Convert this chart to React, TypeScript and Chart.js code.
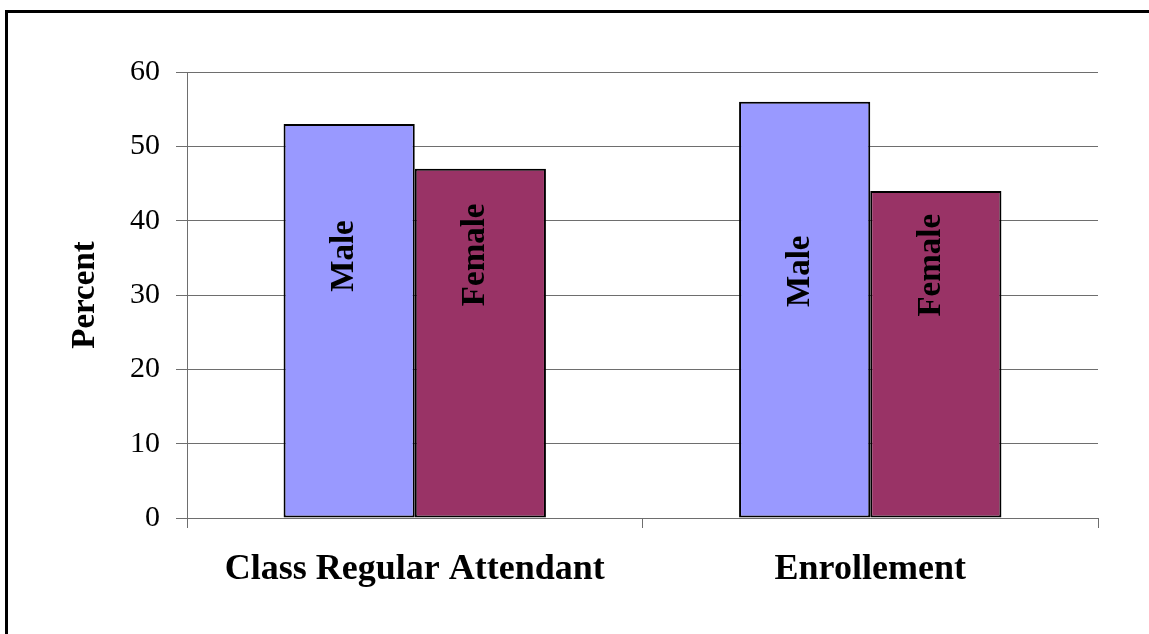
import React, { useEffect, useRef } from "react";
import { Chart, registerables } from "chart.js";

Chart.register(...registerables);

// Chart data
const categories = ["Class Regular Attendant", "Enrollement"];
const maleValues = [53, 56];
const femaleValues = [47, 44];
const yTicks = [0, 10, 20, 30, 40, 50, 60];

// Where each series name sits along the bar (axis units)
const maleNameLevel = [35.25, 33.2];
const femaleNameLevel = [35.4, 34.0];

const GRID = "#6e6e6e";

const seriesNamePlugin = {
  id: "seriesNames",
  afterDatasetsDraw(chart: any) {
    const { ctx } = chart;
    const yScale = chart.scales.y;
    chart.data.datasets.forEach((ds: any, di: number) => {
      const meta = chart.getDatasetMeta(di);
      const levels: number[] = ds.nameLevel;
      meta.data.forEach((bar: any, i: number) => {
        const y = yScale.getPixelForValue(levels[i]);
        ctx.save();
        ctx.translate(bar.x, y);
        ctx.rotate(-Math.PI / 2);
        ctx.font = "bold 33px 'Liberation Serif', 'Times New Roman', serif";
        ctx.fillStyle = "#000";
        ctx.textAlign = "center";
        ctx.textBaseline = "alphabetic";
        ctx.fillText(ds.label, 0, 4);
        ctx.restore();
      });
    });
  },
};

export default function App() {
  const canvasRef = useRef<HTMLCanvasElement | null>(null);

  useEffect(() => {
    const canvas = canvasRef.current;
    if (!canvas) return;
    const chart = new Chart(canvas, {
      type: "bar",
      data: {
        labels: categories,
        datasets: [
          {
            label: "Male",
            data: maleValues,
            backgroundColor: "#9999FF",
            borderColor: "#000000",
            borderWidth: 2,
            borderSkipped: false,
            nameLevel: maleNameLevel,
          } as any,
          {
            label: "Female",
            data: femaleValues,
            backgroundColor: "#993366",
            borderColor: "#000000",
            borderWidth: 2,
            borderSkipped: false,
            nameLevel: femaleNameLevel,
          } as any,
        ],
      },
      options: {
        responsive: false,
        animation: false,
        devicePixelRatio: 1,
        layout: { padding: { left: 0, top: 72, right: 51, bottom: 0 } },
        datasets: {
          bar: { categoryPercentage: 0.576, barPercentage: 1.0 },
        },
        plugins: {
          legend: { display: false },
          tooltip: { enabled: false },
        },
        scales: {
          x: {
            afterFit(scale: any) {
              scale.height = 116;
            },
            grid: {
              display: true,
              offset: true,
              drawOnChartArea: false,
              drawTicks: true,
              tickLength: 10,
              color: GRID,
              lineWidth: 1,
            },
            border: { display: true, color: GRID, width: 1 },
            ticks: {
              color: "#000",
              padding: 20,
              maxRotation: 0,
              autoSkip: false,
              font: {
                family: "'Liberation Serif', 'Times New Roman', serif",
                size: 36,
                weight: "bold",
              },
            },
          },
          y: {
            min: 0,
            max: 60,
            afterFit(scale: any) {
              scale.width = 187;
            },
            afterBuildTicks(scale: any) {
              scale.ticks = yTicks.map((v) => ({ value: v }));
            },
            grid: {
              color: GRID,
              lineWidth: 1,
              drawTicks: true,
              tickLength: 11,
            },
            border: { display: true, color: GRID, width: 1 },
            ticks: {
              color: "#000",
              padding: 16,
              font: {
                family: "'Liberation Serif', 'Times New Roman', serif",
                size: 30,
              },
            },
            title: {
              display: true,
              text: "Percent",
              color: "#000",
              padding: { top: 66, bottom: 0 },
              font: {
                family: "'Liberation Serif', 'Times New Roman', serif",
                size: 33,
                weight: "bold",
              },
            },
          },
        },
      } as any,
      plugins: [seriesNamePlugin],
    });
    return () => chart.destroy();
  }, []);

  return (
    <div
      style={{
        position: "fixed",
        left: 0,
        top: 0,
        width: 1149,
        height: 634,
        overflow: "hidden",
        background: "#fff",
      }}
    >
      <canvas
        ref={canvasRef}
        width={1149}
        height={634}
        style={{ position: "absolute", left: 0, top: 0, width: 1149, height: 634 }}
      />
      <div
        style={{
          position: "absolute",
          left: 5,
          top: 10,
          width: 2000,
          height: 2000,
          borderLeft: "3px solid #000",
          borderTop: "3px solid #000",
          pointerEvents: "none",
        }}
      />
    </div>
  );
}
